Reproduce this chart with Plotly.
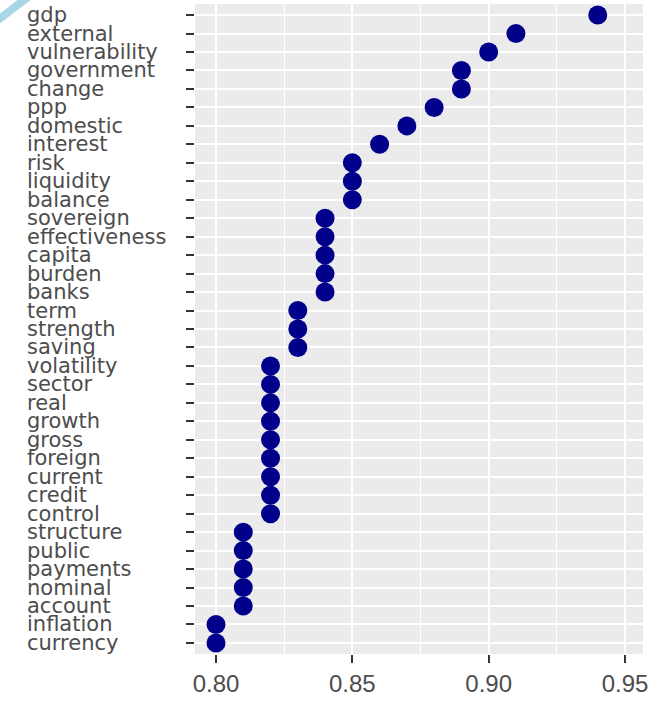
import plotly.graph_objects as go

categories = ["gdp", "external", "vulnerability", "government", "change", "ppp",
              "domestic", "interest", "risk", "liquidity", "balance", "sovereign",
              "effectiveness", "capita", "burden", "banks", "term", "strength",
              "saving", "volatility", "sector", "real", "growth", "gross",
              "foreign", "current", "credit", "control", "structure", "public",
              "payments", "nominal", "account", "inflation", "currency"]
values = [0.94, 0.91, 0.90, 0.89, 0.89, 0.88,
          0.87, 0.86, 0.85, 0.85, 0.85, 0.84,
          0.84, 0.84, 0.84, 0.84, 0.83, 0.83,
          0.83, 0.82, 0.82, 0.82, 0.82, 0.82,
          0.82, 0.82, 0.82, 0.82, 0.81, 0.81,
          0.81, 0.81, 0.81, 0.80, 0.80]
x_ticks = [0.80, 0.85, 0.90, 0.95]
x_tick_labels = ["0.80", "0.85", "0.90", "0.95"]

W, H = 654, 701
ML, MR, MT, MB = 195, 11, 4, 38
PW, PH = W - ML - MR, H - MT - MB

fig = go.Figure()
fig.add_trace(go.Scatter(
    x=values, y=categories, mode="markers",
    marker=dict(color="#00008B", size=19, line=dict(width=0)),
    showlegend=False, hoverinfo="x+y",
))

order = list(reversed(categories))
n = len(categories)

fig.update_layout(
    width=W, height=H,
    margin=dict(l=ML, r=MR, t=MT, b=MB),
    paper_bgcolor="white",
    plot_bgcolor="#EBEBEB",
    font=dict(family="Liberation Sans, Arial, sans-serif", color="#4D4D4D"),
    xaxis=dict(
        range=[0.7923, 0.9566],
        tickvals=x_ticks, ticktext=x_tick_labels,
        tickfont=dict(size=24, color="#4D4D4D"),
        showgrid=True, gridcolor="white", gridwidth=2,
        minor=dict(dtick=0.025, tick0=0.8, showgrid=True, gridcolor="white", gridwidth=1, ticks=""),
        ticks="outside", ticklen=8, tickwidth=1.5, tickcolor="#333333",
        zeroline=False, showline=False, fixedrange=True,
    ),
    yaxis=dict(
        categoryorder="array", categoryarray=order,
        range=[-0.6, n - 1 + 0.6],
        showticklabels=False,
        showgrid=True, gridcolor="white", gridwidth=1.5,
        ticks="outside", ticklen=8, tickwidth=1.5, tickcolor="#333333",
        zeroline=False, showline=False, fixedrange=True,
    ),
)

for c in categories:
    fig.add_annotation(
        x=(25 - ML) / PW, xref="paper", xanchor="left",
        y=c, yref="y", yanchor="middle",
        text=c, showarrow=False,
        font=dict(family="DejaVu Sans", size=21, color="#4D4D4D"),
    )

# light blue diagonal stripe in the top-left corner
fig.add_shape(
    type="line", xref="paper", yref="paper",
    x0=(-3 - ML) / PW, y0=(H - MB - 21) / PH,
    x1=(28 - ML) / PW, y1=(H - MB + 3) / PH,
    line=dict(color="#A9D6E5", width=8), layer="above",
)

fig.write_html("out.html", config={"displayModeBar": False},
               post_script="document.body.style.margin='0';")
